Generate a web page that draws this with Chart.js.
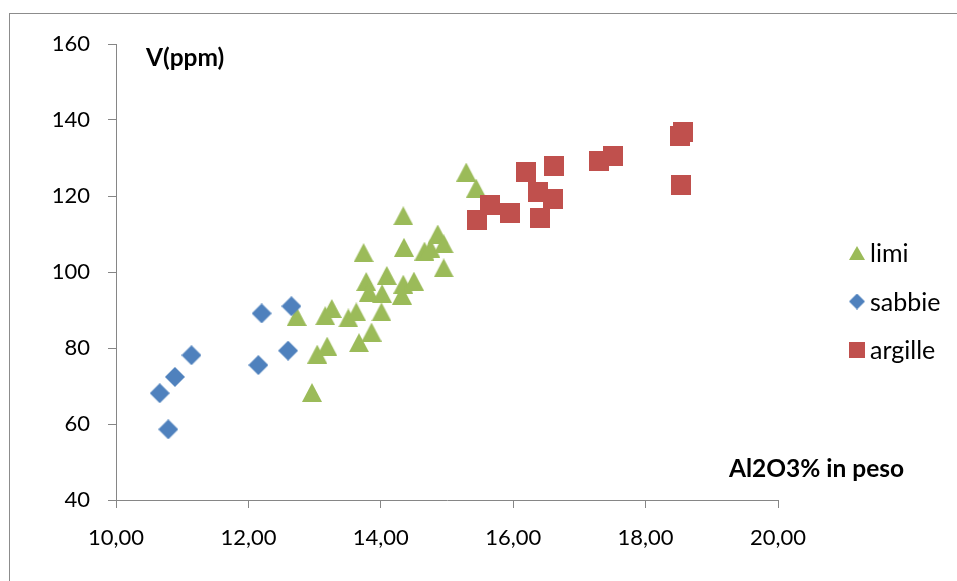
<!DOCTYPE html>
<html>
<head>
<meta charset="utf-8">
<script src="https://cdn.jsdelivr.net/npm/chart.js@4.4.1/dist/chart.umd.min.js"></script>
<style>
  body { margin: 0; background: #fff; }
  #wrap { position: relative; width: 957px; height: 581px; overflow: hidden; }
  #frame { position: absolute; left: 9px; top: 13px; width: 1000px; height: 700px; border: 1px solid #8c8c8c; }
  #chart { position: absolute; left: 0; top: 0; }
</style>
</head>
<body>
<div id="wrap">
  <div id="frame"></div>
  <canvas id="chart" width="957" height="581"></canvas>
</div>
<script>
// Al2O3 (% in peso) vs V (ppm) per tipo di sedimento

const limiAl = [12.73, 12.96, 13.04, 13.19, 13.16, 13.26, 13.51, 13.63, 13.67, 13.86,
                13.74, 13.78, 13.82, 14.02, 14.01, 14.09, 14.32, 14.34, 14.50, 14.34,
                14.35, 14.66, 14.75, 14.86, 14.95, 14.95, 15.29, 15.44]
const limiV = [88.3, 68.3, 78.4, 80.5, 88.5, 90.4, 87.9, 89.5, 81.4, 84.2,
               105.1, 97.5, 94.7, 94.3, 89.5, 99.1, 93.9, 96.8, 97.6, 114.8,
               106.5, 105.5, 106.2, 110.0, 107.4, 101.1, 126.3, 122.1]

const sabbieAl = [10.66, 10.79, 10.89, 11.14, 12.15, 12.20, 12.60, 12.65]
const sabbieV = [68.1, 58.6, 72.4, 78.1, 75.5, 89.1, 79.3, 91.0]

const argilleAl = [15.45, 15.65, 15.95, 16.20, 16.37, 16.41, 16.60, 16.62, 17.29, 17.51, 18.52, 18.56, 18.53]
const argilleV = [113.8, 117.6, 115.5, 126.2, 121.1, 114.1, 119.1, 127.9, 129.3, 130.6, 135.8, 136.9, 122.9]

const xTicks = [10, 12, 14, 16, 18, 20]
const xTickLabels = ["10,00", "12,00", "14,00", "16,00", "18,00", "20,00"]
const yTicks = [40, 60, 80, 100, 120, 140, 160]
const yTickLabels = ["40", "60", "80", "100", "120", "140", "160"]

const GREEN = "#9bbb59"
const BLUE = "#4f81bd"
const RED = "#c0504d"
const FONT = "Lato, 'Open Sans', sans-serif"

const toPoints = (xs, ys) => xs.map((x, i) => ({ x: x, y: ys[i] }))

// marker images, centred on the point by their bounding box
function marker(shape, w, h, color) {
    const c = document.createElement("canvas")
    c.width = w
    c.height = h
    const g = c.getContext("2d")
    g.fillStyle = color
    g.beginPath()
    if (shape === "triangle") {
        g.moveTo(w / 2, 0); g.lineTo(w, h); g.lineTo(0, h)
    } else if (shape === "diamond") {
        g.moveTo(w / 2, 0); g.lineTo(w, h / 2); g.lineTo(w / 2, h); g.lineTo(0, h / 2)
    } else {
        g.rect(0, 0, w, h)
    }
    g.closePath()
    g.fill()
    return c
}

const legendShapes = {
    limi: marker("triangle", 16, 14, GREEN),
    sabbie: marker("diamond", 16, 16, BLUE),
    argille: marker("rect", 16, 16, RED)
}

// legend on the right, drawn by hand so it sits where the plot needs it
const sideLegend = {
    id: "sideLegend",
    afterDraw(chart) {
        const ctx = chart.ctx
        const order = ["limi", "sabbie", "argille"]
        ctx.save()
        ctx.font = `25px ${FONT}`
        ctx.fillStyle = "#000"
        ctx.textBaseline = "middle"
        order.forEach((name, i) => {
            const y = 253 + i * 48.5
            const img = legendShapes[name]
            ctx.drawImage(img, 857 - img.width / 2, y - img.height / 2)
            ctx.fillText(name, 870, y + 1)
        })
        ctx.restore()
    }
}

// axis titles sit inside the plot area
const axisTitles = {
    id: "axisTitles",
    afterDraw(chart) {
        const ctx = chart.ctx
        ctx.save()
        ctx.font = `bold 24.5px ${FONT}`
        ctx.fillStyle = "#000"
        ctx.textBaseline = "alphabetic"
        ctx.fillText("V(ppm)", 146, 66)
        ctx.fillText("Al2O3% in peso", 729, 477)
        ctx.restore()
    }
}

const ctx = document.getElementById("chart")

new Chart(ctx, {
    type: "scatter",
    data: {
        // first dataset is painted last, so argille ends up on top
        datasets: [{
            label: "argille",
            data: toPoints(argilleAl, argilleV),
            pointStyle: marker("rect", 20, 20, RED),
            pointRadius: 10
        }, {
            label: "sabbie",
            data: toPoints(sabbieAl, sabbieV),
            pointStyle: marker("diamond", 20, 20, BLUE),
            pointRadius: 10
        }, {
            label: "limi",
            data: toPoints(limiAl, limiV),
            pointStyle: marker("triangle", 20, 19, GREEN),
            pointRadius: 10
        }]
    },
    options: {
        responsive: false,
        animation: false,
        events: [],
        devicePixelRatio: 1,
        layout: { padding: { top: 44, right: 179, left: 0, bottom: 0 } },
        plugins: {
            legend: { display: false },
            tooltip: { enabled: false }
        },
        scales: {
            x: {
                type: "linear",
                min: 10,
                max: 20,
                afterBuildTicks: (scale) => { scale.ticks = xTicks.map(v => ({ value: v })) },
                afterFit: (scale) => { scale.height = 81 },
                ticks: {
                    callback: (v, i) => xTickLabels[i],
                    font: { family: FONT, size: 22 },
                    color: "#000",
                    padding: 17,
                    maxRotation: 0
                },
                grid: { drawOnChartArea: false, tickLength: 8, color: "#868686" },
                border: { color: "#868686", width: 1 }
            },
            y: {
                type: "linear",
                min: 40,
                max: 160,
                afterBuildTicks: (scale) => { scale.ticks = yTicks.map(v => ({ value: v })) },
                afterFit: (scale) => { scale.width = 116 },
                ticks: {
                    callback: (v, i) => yTickLabels[i],
                    font: { family: FONT, size: 22 },
                    color: "#000",
                    padding: 18
                },
                grid: { drawOnChartArea: false, tickLength: 8, color: "#868686" },
                border: { color: "#868686", width: 1 }
            }
        }
    },
    plugins: [sideLegend, axisTitles]
});
</script>
</body>
</html>
